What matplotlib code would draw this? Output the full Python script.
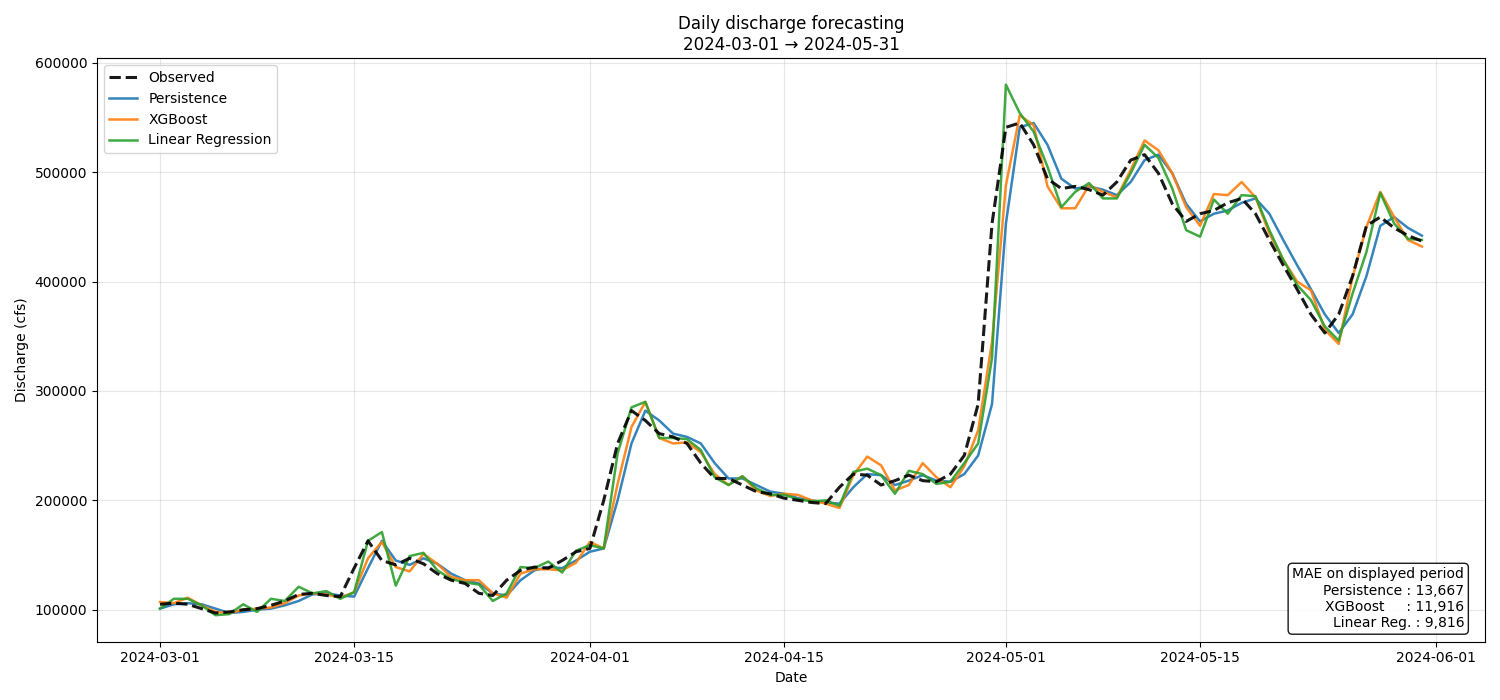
import matplotlib
matplotlib.use('Agg')
from matplotlib import pyplot as plt
import numpy as np
import pandas as pd

dates = pd.date_range('2024-03-01', '2024-05-31', freq='D')

# daily values, cfs
observed = [105000, 106000, 105000, 101000, 97000, 98000, 100000, 101000, 104000, 108000,
            114000, 115000, 113000, 112000, 138000, 163000, 145000, 141000, 147000, 142000,
            133000, 127000, 124000, 115000, 113000, 127000, 136000, 139000, 138000, 145000,
            153000, 156000, 200000, 252000, 282000, 273000, 261000, 258000, 252000, 234000,
            220000, 220000, 214000, 208000, 206000, 202000, 200000, 198000, 197000, 212000,
            224000, 223000, 214000, 218000, 223000, 218000, 217000, 224000, 241000, 288000,
            453000, 541000, 545000, 525000, 494000, 485000, 487000, 484000, 479000, 491000,
            511000, 516000, 499000, 471000, 455000, 462000, 465000, 472000, 476000, 462000,
            438000, 415000, 393000, 370000, 353000, 370000, 405000, 451000, 459000, 449000,
            442000, 437000]

persistence = [101000, 105000, 106000, 105000, 101000, 97000, 98000, 100000, 101000, 104000,
               108000, 114000, 115000, 113000, 112000, 138000, 163000, 145000, 141000, 147000,
               142000, 133000, 127000, 124000, 115000, 113000, 127000, 136000, 139000, 138000,
               145000, 153000, 156000, 200000, 252000, 282000, 273000, 261000, 258000, 252000,
               234000, 220000, 220000, 214000, 208000, 206000, 202000, 200000, 198000, 197000,
               212000, 224000, 223000, 214000, 218000, 223000, 218000, 217000, 224000, 241000,
               288000, 453000, 541000, 545000, 525000, 494000, 485000, 487000, 484000, 479000,
               491000, 511000, 516000, 499000, 471000, 455000, 462000, 465000, 472000, 476000,
               462000, 438000, 415000, 393000, 370000, 353000, 370000, 405000, 451000, 459000,
               449000, 442000]

xgboost = [107000, 106000, 111000, 104000, 98000, 97000, 100000, 101000, 102000, 106000,
           113000, 115000, 114000, 111000, 116000, 147000, 162000, 139000, 135000, 151000,
           142000, 130000, 127000, 127000, 115000, 111000, 133000, 137000, 137000, 136000,
           143000, 162000, 156000, 215000, 267000, 290000, 257000, 252000, 253000, 244000,
           224000, 214000, 222000, 209000, 204000, 206000, 205000, 200000, 197000, 193000,
           223000, 240000, 232000, 209000, 214000, 234000, 221000, 212000, 231000, 264000,
           345000, 488000, 552000, 543000, 487000, 467000, 467000, 488000, 482000, 477000,
           502000, 529000, 520000, 499000, 468000, 451000, 480000, 479000, 491000, 477000,
           444000, 420000, 400000, 392000, 356000, 343000, 404000, 450000, 482000, 459000,
           438000, 432000]

linreg = [101000, 110000, 110000, 104000, 95000, 96000, 105000, 98000, 110000, 108000,
          121000, 115000, 117000, 110000, 116000, 163000, 171000, 122000, 149000, 152000,
          136000, 128000, 125000, 123000, 108000, 115000, 139000, 138000, 144000, 134000,
          154000, 159000, 156000, 243000, 285000, 290000, 257000, 257000, 256000, 246000,
          221000, 214000, 222000, 211000, 205000, 205000, 201000, 199000, 200000, 195000,
          226000, 229000, 223000, 206000, 227000, 224000, 215000, 217000, 234000, 252000,
          330000, 580000, 554000, 537000, 505000, 468000, 482000, 490000, 476000, 476000,
          499000, 525000, 513000, 485000, 447000, 441000, 475000, 462000, 479000, 478000,
          447000, 420000, 397000, 383000, 359000, 346000, 389000, 427000, 481000, 453000,
          439000, 438000]

mae = {'Persistence': 13667, 'XGBoost': 11916, 'Linear Reg.': 9816}

fig, ax = plt.subplots(figsize=(15, 7), dpi=100)
ax.plot(dates, observed, 'k--', lw=2.2, label='Observed', zorder=5, alpha=0.9)
ax.plot(dates, persistence, color='tab:blue', lw=1.8, alpha=0.9, label='Persistence')
ax.plot(dates, xgboost, color='tab:orange', lw=1.8, alpha=0.9, label='XGBoost')
ax.plot(dates, linreg, color='tab:green', lw=1.8, alpha=0.9, label='Linear Regression')

ax.set_title('Daily discharge forecasting\n2024-03-01 \u2192 2024-05-31', fontsize=12)
ax.set_xlabel('Date')
ax.set_ylabel('Discharge (cfs)')
ax.grid(True, alpha=0.3)
ax.legend(loc='upper left')

txt = 'MAE on displayed period\n' + '\n'.join(
    f'{k:<11} : {v:,}' if k == 'XGBoost' else f'{k} : {v:,}' for k, v in mae.items())
ax.text(0.985, 0.02, txt, transform=ax.transAxes, ha='right', va='bottom',
        fontsize=10, multialignment='right',
        bbox=dict(boxstyle='round', facecolor='white', alpha=0.9))

plt.tight_layout()
plt.savefig('out.png')
